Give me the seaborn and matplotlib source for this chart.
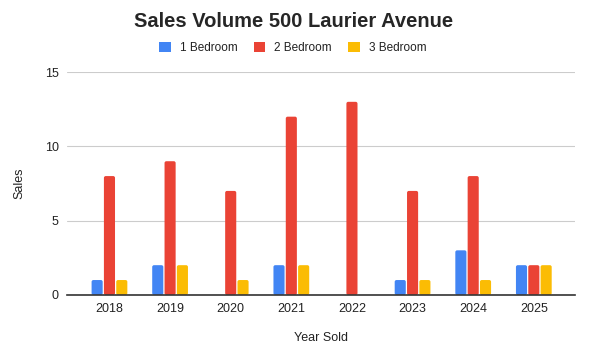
import pandas as pd
import matplotlib
matplotlib.use('Agg')
import matplotlib.pyplot as plt
from matplotlib.patches import FancyBboxPatch
import seaborn as sns

years = ['2018', '2019', '2020', '2021', '2022', '2023', '2024', '2025']
one_bed = [1, 2, 0, 2, 0, 1, 3, 2]
two_bed = [8, 9, 7, 12, 13, 7, 8, 2]
three_bed = [1, 2, 1, 2, 0, 1, 1, 2]
unit_types = ['1 Bedroom', '2 Bedroom', '3 Bedroom']
palette = ['#4285F4', '#EA4335', '#FBBC04']

df = pd.DataFrame({'year': years, '1 Bedroom': one_bed,
                   '2 Bedroom': two_bed, '3 Bedroom': three_bed})
df = df.melt(id_vars='year', var_name='type', value_name='sales')

sns.set_style('white')
plt.rcParams['font.family'] = ['Liberation Sans', 'DejaVu Sans']

fig = plt.figure(figsize=(5.89, 3.57), dpi=100)
ax = fig.add_axes([0.1138, 0.174, 0.8625, 0.624])

sns.barplot(data=df, x='year', y='sales', hue='type', hue_order=unit_types,
            palette=palette, width=0.61, gap=0.1, ax=ax, saturation=1,
            linewidth=0, edgecolor='none')

ax.set_xlim(-0.70, 7.68)
ax.set_ylim(0, 15)

# soften the bar corners a little, like the sheets chart
bbox = ax.get_window_extent()
aspect = (bbox.width / 8.38) / (bbox.height / 15)
for bar in list(ax.patches):
    if bar.get_height() <= 0:
        continue
    r = FancyBboxPatch((bar.get_x(), bar.get_y()), bar.get_width(), bar.get_height(),
                       boxstyle='round,pad=0,rounding_size=0.03',
                       mutation_aspect=aspect, facecolor=bar.get_facecolor(),
                       linewidth=0, zorder=bar.get_zorder())
    ax.add_patch(r)
    bar.set_visible(False)

ax.set_yticks([0, 5, 10, 15])
ax.grid(axis='y', color='#cccccc', linewidth=0.8)
ax.set_axisbelow(True)
for s in ['top', 'right', 'left']:
    ax.spines[s].set_visible(False)
ax.spines['bottom'].set_color('#333333')
ax.spines['bottom'].set_linewidth(1.2)
ax.spines['bottom'].set_zorder(5)
ax.tick_params(axis='both', length=0, labelsize=9, colors='#222222', pad=6)
ax.set_xlabel('Year Sold', fontsize=9, color='#222222', labelpad=12)
ax.set_ylabel('Sales', fontsize=9, color='#222222', labelpad=14)

fig.text(0.498, 0.925, 'Sales Volume 500 Laurier Avenue', fontsize=14.5,
         fontweight='bold', ha='center', va='baseline')
ax.legend(loc='center', bbox_to_anchor=(0.497, 0.866), bbox_transform=fig.transFigure,
          ncol=3, frameon=False, fontsize=8.5, handlelength=1.0, handleheight=1.0,
          columnspacing=1.35, handletextpad=0.75, labelcolor='#222222')

plt.savefig('out.png', dpi=100)
